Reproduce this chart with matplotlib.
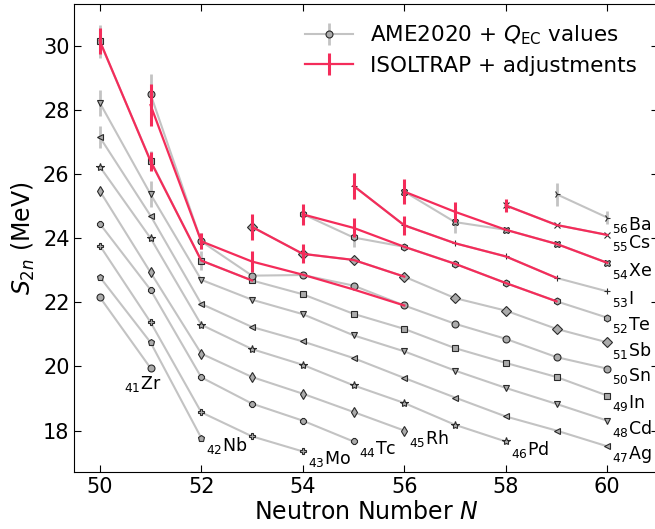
import matplotlib
matplotlib.use("Agg")
import matplotlib.pyplot as plt
import numpy as np

# AME2020 + Q_EC two-neutron separation energies (MeV), one chain per element
zr_n = [50, 51]
zr_s = [22.16, 19.95]
nb_n = [50, 51, 52]
nb_s = [22.79, 20.75, 17.77]
mo_n = [50, 51, 52, 53, 54]
mo_s = [23.77, 21.38, 18.57, 17.82, 17.35]
tc_n = [50, 51, 52, 53, 54, 55]
tc_s = [24.45, 22.39, 19.66, 18.84, 18.31, 17.66]
rh_n = [50, 51, 52, 53, 54, 55, 56]
rh_s = [25.47, 22.93, 20.40, 19.67, 19.15, 18.58, 18.00]
pd_n = [50, 51, 52, 53, 54, 55, 56, 57, 58]
pd_s = [26.23, 24.00, 21.30, 20.54, 20.05, 19.41, 18.86, 18.18, 17.66]
ag_n = [50, 51, 52, 53, 54, 55, 56, 57, 58, 59, 60]
ag_s = [27.15, 24.70, 21.95, 21.23, 20.78, 20.26, 19.64, 19.03, 18.44, 18.00, 17.51]
ag_e = [0.35, 0, 0, 0, 0, 0, 0, 0, 0, 0, 0]
cd_n = [50, 51, 52, 53, 54, 55, 56, 57, 58, 59, 60]
cd_s = [28.22, 25.37, 22.70, 22.08, 21.63, 20.97, 20.47, 19.87, 19.33, 18.83, 18.31]
cd_e = [0.4, 0.4, 0, 0, 0, 0, 0, 0, 0, 0, 0]
in_n = [50, 51, 52, 53, 54, 55, 56, 57, 58, 59, 60]
in_s = [30.13, 26.42, 23.30, 22.68, 22.25, 21.64, 21.17, 20.57, 20.11, 19.67, 19.09]
in_e = [0.5, 0.3, 0.3, 0, 0, 0, 0, 0, 0, 0, 0]
sn_n = [51, 52, 53, 54, 55, 56, 57, 58, 59, 60]
sn_s = [28.49, 23.90, 22.83, 22.85, 22.52, 21.90, 21.33, 20.86, 20.29, 19.93]
sn_e = [0.63, 0.25, 0, 0, 0, 0, 0, 0, 0, 0]
sb_n = [53, 54, 55, 56, 57, 58, 59, 60]
sb_s = [24.35, 23.51, 23.32, 22.80, 22.13, 21.74, 21.17, 20.75]
te_n = [54, 55, 56, 57, 58, 59, 60]
te_s = [24.75, 24.02, 23.73, 23.20, 22.60, 22.03, 21.52]
te_e = [0, 0.3, 0, 0, 0, 0, 0]
i_n = [55, 56, 57, 58, 59, 60]
i_s = [25.63, 24.40, 23.84, 23.43, 22.76, 22.34]
i_e = [0.4, 0, 0, 0, 0, 0]
xe_n = [56, 57, 58, 59, 60]
xe_s = [25.45, 24.50, 24.26, 23.82, 23.23]
xe_e = [0, 0.35, 0, 0, 0]
cs_n = [58, 59, 60]
cs_s = [25.02, 24.41, 24.10]
ba_n = [59, 60]
ba_s = [25.37, 24.64]
ba_e = [0.36, 0.2]

# ISOLTRAP + adjustments
in_isol_n = [50, 51, 52, 53]
in_isol_s = [30.15, 26.40, 23.30, 22.68]
in_isol_e = [0.4, 0.3, 0, 0]
sn_isol_n = [51, 52, 53, 54, 55, 56]
sn_isol_s = [28.15, 23.90, 23.27, 22.86, 22.40, 21.90]
sn_isol_e = [0.64, 0.25, 0.34, 0, 0, 0]
sb_isol_n = [53, 54, 55, 56]
sb_isol_s = [24.35, 23.51, 23.32, 22.80]
sb_isol_e = [0.4, 0.3, 0, 0]
te_isol_n = [54, 55, 56, 57, 58, 59]
te_isol_s = [24.74, 24.32, 23.73, 23.20, 22.60, 22.03]
te_isol_e = [0.33, 0.3, 0, 0, 0, 0]
i_isol_n = [55, 56, 57, 58, 59]
i_isol_s = [25.63, 24.40, 23.84, 23.43, 22.76]
i_isol_e = [0.4, 0.3, 0, 0, 0]
xe_isol_n = [56, 57, 58, 59, 60]
xe_isol_s = [25.45, 24.82, 24.26, 23.82, 23.23]
xe_isol_e = [0.38, 0.32, 0, 0, 0]
cs_isol_n = [58, 59, 60]
cs_isol_s = [25.02, 24.41, 24.10]
cs_isol_e = [0.2, 0, 0]

# (label, N, S2n, error, marker)
ame_chains = [
    ("$_{41}$Zr", zr_n, zr_s, None, 'o'),
    ("$_{42}$Nb", nb_n, nb_s, None, 'p'),
    ("$_{43}$Mo", mo_n, mo_s, None, 'P'),
    ("$_{44}$Tc", tc_n, tc_s, None, '8'),
    ("$_{45}$Rh", rh_n, rh_s, None, 'd'),
    ("$_{46}$Pd", pd_n, pd_s, None, '*'),
    ("$_{47}$Ag", ag_n, ag_s, ag_e, '<'),
    ("$_{48}$Cd", cd_n, cd_s, cd_e, 'v'),
    ("$_{49}$In", in_n, in_s, in_e, 's'),
    ("$_{50}$Sn", sn_n, sn_s, sn_e, 'o'),
    ("$_{51}$Sb", sb_n, sb_s, None, 'D'),
    ("$_{52}$Te", te_n, te_s, te_e, 'h'),
    ("$_{53}$I", i_n, i_s, i_e, '+'),
    ("$_{54}$Xe", xe_n, xe_s, xe_e, 'X'),
    ("$_{55}$Cs", cs_n, cs_s, None, 'x'),
    ("$_{56}$Ba", ba_n, ba_s, ba_e, '4'),
]

isol_chains = [
    (in_isol_n, in_isol_s, in_isol_e),
    (sn_isol_n, sn_isol_s, sn_isol_e),
    (sb_isol_n, sb_isol_s, sb_isol_e),
    (te_isol_n, te_isol_s, te_isol_e),
    (i_isol_n, i_isol_s, i_isol_e),
    (xe_isol_n, xe_isol_s, xe_isol_e),
    (cs_isol_n, cs_isol_s, cs_isol_e),
]

grey = '#c3c3c3'
face = '#ababab'
edge = '#2a2a2a'
red = '#f42c5a'

fig = plt.figure(figsize=(6.55, 5.29), dpi=100)
ax = fig.add_axes([0.1136, 0.1072, 0.891, 0.8853])

for label, n, s, e, m in ame_chains:
    ms = 5
    if m == '*':
        ms = 6
    if m in ('+', 'x', '4'):
        mfc = edge
    else:
        mfc = face
    ax.errorbar(n, s, yerr=e, fmt='-', marker=m, color=grey, lw=1.5,
                elinewidth=2, ms=ms, mfc=mfc, mec=edge, mew=0.8, zorder=2)
    # element label next to the last point
    if label == "$_{41}$Zr":
        dx, dy = -0.52, -0.5
    else:
        dx, dy = 0.1, -0.24
    ax.text(n[-1] + dx, s[-1] + dy, label, fontsize=12.5, ha='left', va='center')

for n, s, e in isol_chains:
    ax.errorbar(n, s, yerr=e, fmt='-', color=red, lw=1.6, elinewidth=2.2, zorder=3)

# legend proxies
h1 = ax.errorbar([np.nan], [np.nan], yerr=[0.3], fmt='-o', color=grey, lw=1.5,
                 elinewidth=2, ms=5, mfc=face, mec=edge, mew=0.8)
h2 = ax.errorbar([np.nan], [np.nan], yerr=[0.3], fmt='-', color=red, lw=1.6,
                 elinewidth=2.2)
ax.legend([h1, h2], ["AME2020 + $Q_{\\rm EC}$ values", "ISOLTRAP + adjustments"],
          loc='upper right', bbox_to_anchor=(0.997, 1.0), frameon=False,
          fontsize=15.5, handlelength=2.2, labelspacing=0.4)

ax.set_xlim(49.5, 61.0)
ax.set_ylim(16.7, 31.3)
ax.set_xticks([50, 52, 54, 56, 58, 60])
ax.set_yticks([18, 20, 22, 24, 26, 28, 30])
ax.tick_params(direction='in', top=True, right=True, labelsize=15, length=5)
ax.set_xlabel("Neutron Number $N$", fontsize=17, labelpad=2)
ax.set_ylabel("$S_{2n}$ (MeV)", fontsize=17, labelpad=4)

fig.savefig("out.png", dpi=100)
